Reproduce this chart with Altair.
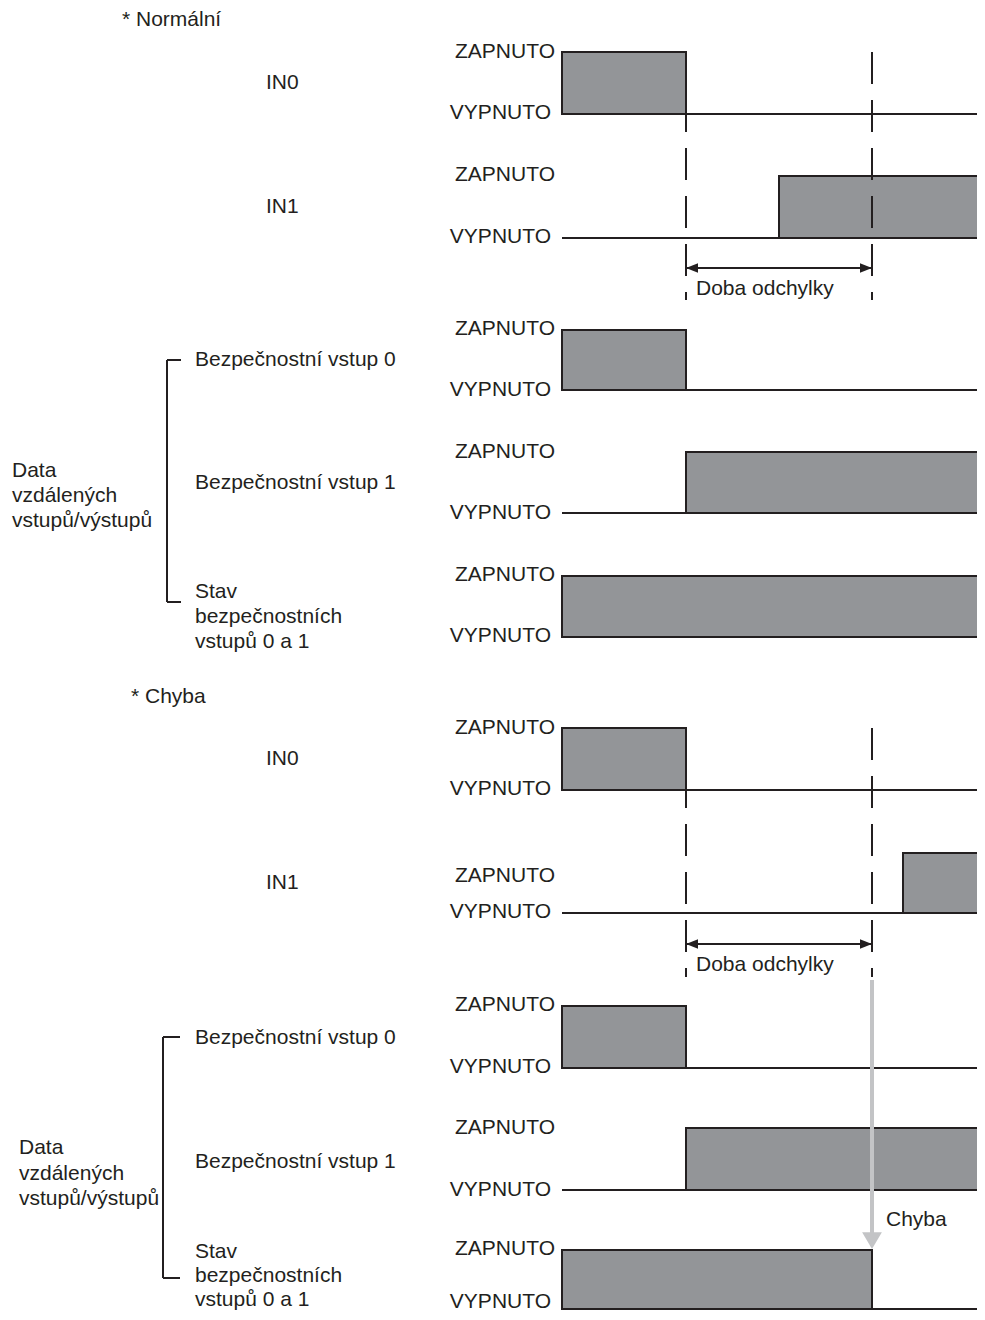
import altair as alt
import pandas as pd

INK = "#231f20"
FILL = "#939598"
ARROW_GRAY = "#c3c4c6"
FONT = "Liberation Sans"
FS = 21
W, H = 969, 1304

# ---------------- data (time in arbitrary units) ----------------
t_start = 0.0
t_in0_off = 2.0
t_in1_on_normal = 3.5
t_dev_end = 5.0
t_in1_on_error = 5.5
t_end = 6.9

sections = ["Normální"] * 5 + ["Chyba"] * 5
signals = ["IN0", "IN1", "Bezpečnostní vstup 0", "Bezpečnostní vstup 1",
           "Stav bezpečnostních vstupů 0 a 1"] * 2
high_from = [t_start, t_in1_on_normal, t_start, t_in0_off, t_start,
             t_start, t_in1_on_error, t_start, t_in0_off, t_start]
high_to = [t_in0_off, t_end, t_in0_off, t_end, t_end,
           t_in0_off, t_end, t_in0_off, t_end, t_dev_end]
marker_times = [t_in0_off, t_dev_end]

on_text = "ZAPNUTO"
off_text = "VYPNUTO"

# ---------------- layout (vertical positions of rows) ----------------
row_on = [52, 176, 330, 452, 576, 728, 853, 1006, 1128, 1250]
row_off = [114, 238, 390, 513, 637, 790, 913, 1068, 1190, 1309]
on_label_y = [52, 175, 329, 452, 575, 728, 876, 1005, 1128, 1249]
off_label_y = [113, 237, 390, 513, 636, 789, 912, 1067, 1190, 1302]
dash_top = [52, 728]
dash_bottom = [300, 977]
dev_arrow_y = [268, 944]
dev_text_y = [289, 965]

# x scale: time -> pixels (origin at image x 562, 62 px per unit)
origin_px = 562 - 8
ppu = 62.0
xs = alt.Scale(domain=[-origin_px / ppu, (W - origin_px) / ppu], nice=False, zero=False)
ys = alt.Scale(domain=[8, 8 + H], reverse=True, nice=False, zero=False)

def X(f):
    return alt.X(f, type="quantitative", scale=xs, axis=None)

def Y(f):
    return alt.Y(f, type="quantitative", scale=ys, axis=None)

rows = pd.DataFrame({"section": sections, "signal": signals,
                     "t0": high_from, "t1": high_to,
                     "on": row_on, "off": row_off,
                     "ts": [t_start] * 10, "te": [t_end] * 10})

baselines = alt.Chart(rows).mark_rule(color=INK, strokeWidth=2).encode(
    x=X("ts"), x2="te", y=Y("off"))

boxes = alt.Chart(rows).mark_rect(fill=FILL, stroke=INK, strokeWidth=2).encode(
    x=X("t0"), x2="t1", y=Y("on"), y2="off")

dash_df = pd.DataFrame([{"t": t, "y0": a, "y1": b}
                        for a, b in zip(dash_top, dash_bottom) for t in marker_times])
dashes = alt.Chart(dash_df).mark_rule(color=INK, strokeWidth=2, strokeDash=[32, 16]).encode(
    x=X("t"), y=Y("y0"), y2="y1")

dev_df = pd.DataFrame({"a": [t_in0_off] * 2, "b": [t_dev_end] * 2, "y": dev_arrow_y,
                       "ty": dev_text_y, "txt": ["Doba odchylky"] * 2})
dev_line = alt.Chart(dev_df).mark_rule(color=INK, strokeWidth=2).encode(
    x=X("a"), x2="b", y=Y("y"))
head_l = alt.Chart(dev_df).mark_point(shape="M0,0 L4,-1.6 L4,1.6 Z", filled=True,
                                      size=36, color=INK, opacity=1).encode(x=X("a"), y=Y("y"))
head_r = alt.Chart(dev_df).mark_point(shape="M0,0 L-4,-1.6 L-4,1.6 Z", filled=True,
                                      size=36, color=INK, opacity=1).encode(x=X("b"), y=Y("y"))
dev_text = alt.Chart(dev_df).mark_text(align="left", baseline="middle", font=FONT,
                                       fontSize=FS, color=INK, dx=10).encode(
    x=X("a"), y=Y("ty"), text="txt")

err_df = pd.DataFrame({"t": [t_dev_end], "y0": [980], "y1": [1234], "tip": [1249],
                       "ty": [1220], "txt": ["Chyba"]})
err_line = alt.Chart(err_df).mark_rule(color=ARROW_GRAY, strokeWidth=4).encode(
    x=X("t"), y=Y("y0"), y2="y1")
err_head = alt.Chart(err_df).mark_point(shape="M0,0 L-3.3,-5.6 L3.3,-5.6 Z", filled=True,
                                        size=36, color=ARROW_GRAY, opacity=1).encode(
    x=X("t"), y=Y("tip"))
err_text = alt.Chart(err_df).mark_text(align="left", baseline="middle", font=FONT,
                                       fontSize=FS, color=INK, dx=14).encode(
    x=X("t"), y=Y("ty"), text="txt")

lvl_df = pd.DataFrame({"on_y": on_label_y, "off_y": off_label_y,
                       "on_t": [on_text] * 10, "off_t": [off_text] * 10})
on_labels = alt.Chart(lvl_df).mark_text(align="right", baseline="middle", font=FONT,
                                        fontSize=FS, color=INK).encode(
    x=alt.value(555 - 8), y=Y("on_y"), text="on_t")
off_labels = alt.Chart(lvl_df).mark_text(align="right", baseline="middle", font=FONT,
                                         fontSize=FS, color=INK).encode(
    x=alt.value(551 - 8), y=Y("off_y"), text="off_t")

# left-side labels grouped by their horizontal position (image px)
left_groups = [
    (122, [("* Normální", 20)]),
    (131, [("* Chyba", 697)]),
    (266, [("IN0", 83), ("IN1", 207), ("IN0", 759), ("IN1", 883)]),
    (195, [("Bezpečnostní vstup 0", 360), ("Bezpečnostní vstup 1", 483),
           ("Stav", 592), ("bezpečnostních", 617), ("vstupů 0 a 1", 642),
           ("Bezpečnostní vstup 0", 1038), ("Bezpečnostní vstup 1", 1162),
           ("Stav", 1252), ("bezpečnostních", 1276), ("vstupů 0 a 1", 1300)]),
    (12, [("Data", 471), ("vzdálených", 496), ("vstupů/výstupů", 521)]),
    (19, [("Data", 1148), ("vzdálených", 1174), ("vstupů/výstupů", 1199)]),
]
left_layers = []
for px, items in left_groups:
    d = pd.DataFrame({"txt": [a for a, _ in items], "y": [b for _, b in items]})
    left_layers.append(alt.Chart(d).mark_text(align="left", baseline="middle", font=FONT,
                                              fontSize=FS, color=INK).encode(
        x=alt.value(px - 8), y=Y("y"), text="txt"))

# brackets
bracket_layers = []
for bx, bx2, top, bot in [(167, 181, 360, 602), (163, 180, 1037, 1278)]:
    v = pd.DataFrame({"y0": [top], "y1": [bot]})
    bracket_layers.append(alt.Chart(v).mark_rule(color=INK, strokeWidth=2).encode(
        x=alt.value(bx - 8), y=Y("y0"), y2="y1"))
    hz = pd.DataFrame({"y": [top, bot]})
    bracket_layers.append(alt.Chart(hz).mark_rule(color=INK, strokeWidth=2).encode(
        x=alt.value(bx - 8), x2=alt.value(bx2 - 8), y=Y("y")))

chart = alt.layer(
    baselines, boxes, dashes, dev_line, head_l, head_r, dev_text,
    on_labels, off_labels, *left_layers, *bracket_layers,
    err_line, err_head, err_text,
).properties(
    width=W, height=H, padding=0,
    autosize=alt.AutoSizeParams(type="none"),
    background="white",
).configure_view(stroke=None)

chart.save("out.html", embed_options={"renderer": "svg", "actions": False})
